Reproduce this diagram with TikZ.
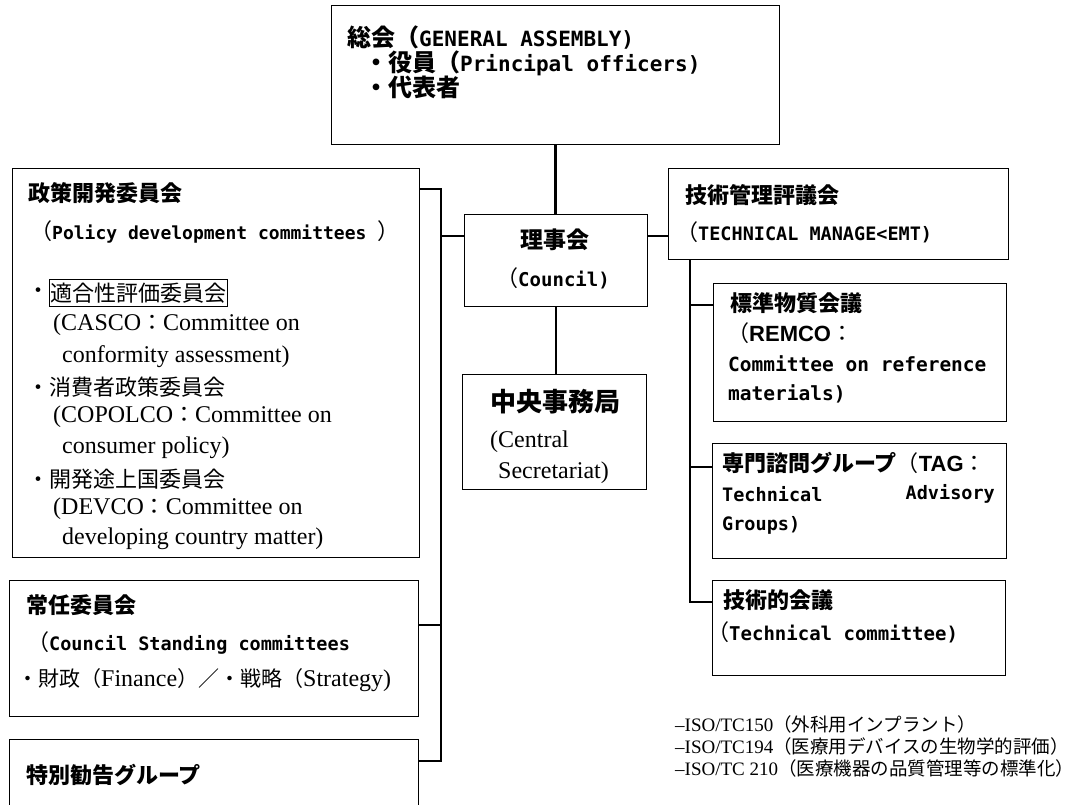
\documentclass[tikz,border=0pt]{standalone}
\usepackage{fontspec}
\setmainfont{Liberation Serif}
\setsansfont{Liberation Sans}
\newfontfamily\jpfont{Noto Sans CJK JP}
\newfontfamily\gmfont{DejaVu Sans Mono}
\newcommand\Jf[1][22]{\jpfont\fontsize{#1bp}{#1bp}\selectfont}
\newcommand\Hf[1][22]{\jpfont\bfseries\fontsize{#1bp}{#1bp}\selectfont}
\newcommand\Gf[1][19]{\gmfont\bfseries\fontsize{#1bp}{#1bp}\selectfont}
\newcommand\Rf[1][24]{\rmfamily\fontsize{#1bp}{#1bp}\selectfont}
\newcommand\Sf[1][22]{\sffamily\bfseries\fontsize{#1bp}{#1bp}\selectfont}
\begin{document}
\begin{tikzpicture}[x=1bp,y=-1bp,
  box/.style={draw, line width=1.3bp, anchor=north west, inner sep=0pt},
  bus/.style={line width=2.4bp},
  stub/.style={line width=1.8bp},
  lbl/.style={anchor=west, inner sep=0pt},
  ctr/.style={anchor=center, inner sep=0pt},
  frm/.style={anchor=west, draw, line width=0.9bp, inner xsep=1bp, inner ysep=3bp}]
\fill[white] (0,0) rectangle (1078,805);
\useasboundingbox (0,0) rectangle (1078,805);

% boxes
\node[box, minimum width=448bp, minimum height=139bp] (ga) at (331,5) {};
\node[box, minimum width=407bp, minimum height=389bp] (pol) at (12,168) {};
\node[box, minimum width=409bp, minimum height=136bp] (std) at (9,580) {};
\node[box, minimum width=409bp, minimum height=90bp] (spc) at (9,739) {};
\node[box, minimum width=183bp, minimum height=92bp] (cou) at (464,214) {};
\node[box, minimum width=184bp, minimum height=115bp] (cen) at (462,374) {};
\node[box, minimum width=340bp, minimum height=91bp] (tm) at (668,168) {};
\node[box, minimum width=293bp, minimum height=138bp] (rem) at (713,283) {};
\node[box, minimum width=294bp, minimum height=115bp] (tag) at (712,443) {};
\node[box, minimum width=293bp, minimum height=95bp] (tc) at (712,580) {};

% connectors
\coordinate (lbt) at (441,189);
\coordinate (lbm) at (441,236);
\coordinate (lbs) at (441,625);
\coordinate (lbb) at (441,761);
\draw[bus] (pol.east |- lbt) -- (lbt) -- (lbb) -- (spc.east |- lbb);
\draw[stub] (std.east |- lbs) -- (lbs);
\draw[stub] (lbm) -- (cou.west |- lbm);
\draw[stub] (cou.east |- lbm) -- (tm.west |- lbm);
\draw[bus] (ga.south) -- (ga.south |- cou.north);
\draw[bus] (cou.south) -- (cou.south |- cen.north);
\coordinate (rbb) at (690,602);
\coordinate (rbr) at (690,305);
\coordinate (rbt) at (690,467);
\draw[bus] (rbb |- tm.south) -- (rbb) -- (tc.west |- rbb);
\draw[stub] (rbr) -- (rem.west |- rbr);
\draw[stub] (rbt) -- (tag.west |- rbt);

% general assembly
\node[lbl] (ga1) at (347,38) {{\Hf[24]総会（}{\Gf[21]GENERAL ASSEMBLY)}};
\node[lbl] (ga2) at (364,63) {{\Hf[24]・役員（}{\Gf[21]Principal officers)}};
\node[lbl] (ga3) at (364,87) {\Hf[24]・代表者};

% policy development committees
\node[lbl] (p1) at (28,193) {\Hf 政策開発委員会};
\node[lbl] (p2) at (30,232) {{\Jf （}{\Gf[18]Policy development committees }{\Jf ）}};
\node[lbl] (p3a) at (27,293) {\Jf ・};
\node[frm] (p3) at (49,293) {\Jf 適合性評価委員会};
\node[lbl] (p4) at (53,325) {{\Rf (CASCO}{\Jf ：}{\Rf Committee on}};
\node[lbl] (p5) at (62,357) {\Rf conformity assessment)};
\node[lbl] (p6) at (27,387) {\Jf ・消費者政策委員会};
\node[lbl] (p7) at (53,417) {{\Rf (COPOLCO}{\Jf ：}{\Rf Committee on}};
\node[lbl] (p8) at (62,448) {\Rf consumer policy)};
\node[lbl] (p9) at (27,479) {\Jf ・開発途上国委員会};
\node[lbl] (p10) at (53,509) {{\Rf (DEVCO}{\Jf ：}{\Rf Committee on}};
\node[lbl] (p11) at (62,539) {\Rf developing country matter)};

% standing committees
\node[lbl] (s1) at (26,605) {\Hf 常任委員会};
\node[lbl] (s2) at (27,643) {{\Jf （}{\Gf[18.5]Council Standing committees}};
\node[lbl] (s3) at (17,680) {{\Jf[21]・財政（}{\Rf Finance}{\Jf[21]）／・戦略（}{\Rf Strategy)}};

% special advisory group
\node[lbl] (sp1) at (26,775) {\Hf 特別勧告グループ};

% council
\node[ctr] (c1) at (555,240) {\Hf[23]理事会};
\node[ctr] (c2) at (553,278) {{\Jf （}{\Gf Council)}};

% central secretariat
\node[lbl] (ce1) at (490,402) {\Hf[26]中央事務局};
\node[lbl] (ce2) at (490,442) {\Rf (Central};
\node[lbl] (ce3) at (498,473) {\Rf Secretariat)};

% technical management board
\node[lbl] (t1) at (685,195) {\Hf 技術管理評議会};
\node[lbl] (t2) at (676,232) {{\Jf （}{\Gf[18.5]TECHNICAL MANAGE<EMT)}};

% REMCO
\node[lbl] (r1) at (730,303) {\Hf 標準物質会議};
\node[lbl] (r2) at (727,333) {{\Jf （}{\Sf REMCO}{\Jf ：}};
\node[lbl] (r3) at (728,364) {\Gf[19.5]Committee on reference};
\node[lbl] (r4) at (728,394) {\Gf[19.5]materials)};

% TAG
\node[lbl] (g1) at (722,463) {{\Hf 専門諮問グループ}{\Jf （}{\Sf TAG}{\Jf ：}};
\node[lbl] (g2) at (722,494) {\Gf[18.5]Technical};
\node[anchor=east, inner sep=0pt] (g3) at (995,494) {\Gf[18.5]Advisory};
\node[lbl] (g4) at (722,525) {\Gf[18.5]Groups)};

% technical committee
\node[lbl] (k1) at (723,600) {\Hf 技術的会議};
\node[lbl] (k2) at (707,632) {{\Jf （}{\Gf Technical committee)}};

% ISO/TC list
\node[lbl] (b1) at (675,724) {{\Rf[19]–ISO/TC150}{\Jf[18.5]（外科用インプラント）}};
\node[lbl] (b2) at (675,746) {{\Rf[19]–ISO/TC194}{\Jf[18.5]（医療用デバイスの生物学的評価）}};
\node[lbl] (b3) at (675,768) {{\Rf[19]–ISO/TC 210}{\Jf[18.5]（医療機器の品質管理等の標準化）}};
\end{tikzpicture}
\end{document}
